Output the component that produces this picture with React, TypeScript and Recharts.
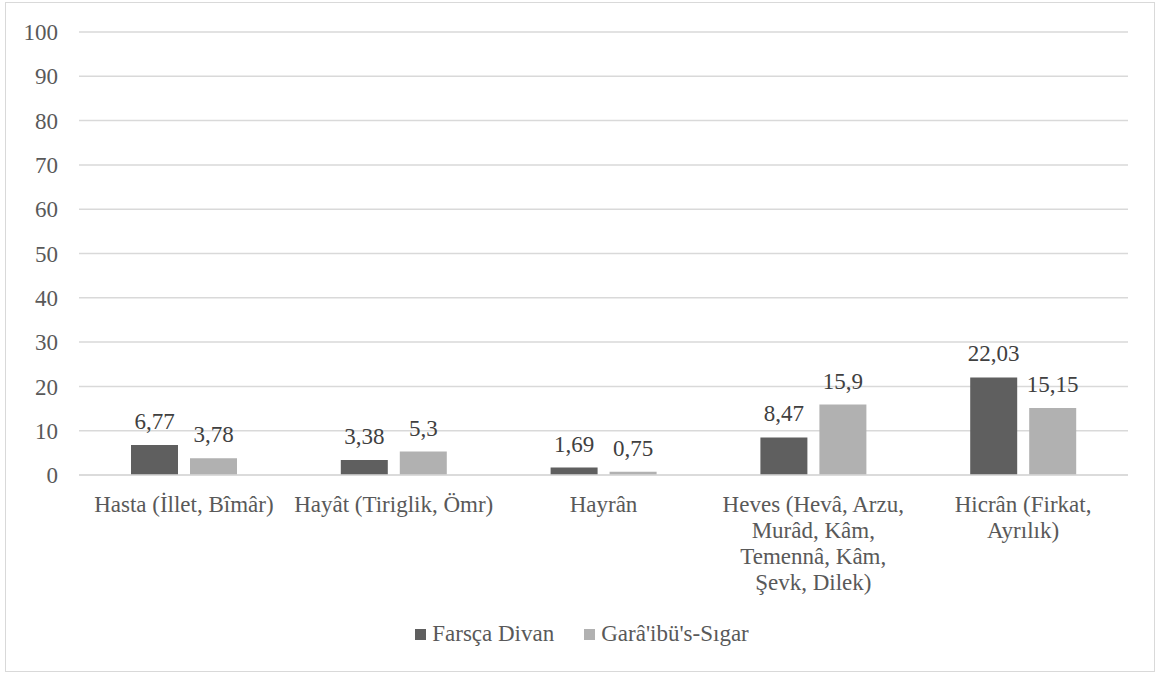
import React from 'react';
import { BarChart, Bar, XAxis, YAxis, CartesianGrid, LabelList } from 'recharts';

// categories (line breaks follow the wrapping seen in the reference)
const categories = [
  'Hasta (İllet, Bîmâr)',
  'Hayât (Tiriglik, Ömr)',
  'Hayrân',
  'Heves (Hevâ, Arzu,\nMurâd, Kâm,\nTemennâ, Kâm,\nŞevk, Dilek)',
  'Hicrân (Firkat,\nAyrılık)',
];
const farscaDivan = [6.77, 3.38, 1.69, 8.47, 22.03];
const garaibus = [3.78, 5.3, 0.75, 15.9, 15.15];
const yTicks = [0, 10, 20, 30, 40, 50, 60, 70, 80, 90, 100];

const seriesNames = ['Farsça Divan', "Garâ'ibü's-Sıgar"];
const colors = ['#5f5f5f', '#b1b1b1'];

const FONT = 'Liberation Serif';
const TEXT = '#595959';

const chartData = categories.map((name, i) => ({
  name,
  a: farscaDivan[i],
  b: garaibus[i],
}));

const fmt = (v: any) => String(v).replace('.', ',');

const CategoryTick = ({ x, y, payload }: any) => {
  const lines = String(payload.value).split('\n');
  return (
    <text x={x} y={y + 37} textAnchor="middle" fill={TEXT} fontSize={23} fontFamily={FONT}>
      {lines.map((l, i) => (
        <tspan key={i} x={x} dy={i === 0 ? 0 : 26}>{l}</tspan>
      ))}
    </text>
  );
};

export default function App() {
  return (
    <div>
      {/* legend as plain html, placed first */}
      <div style={{ fontFamily: FONT, fontSize: 23, color: TEXT, position: 'absolute', left: 0, top: 621, width: 1164, display: 'flex', justifyContent: 'center' }}>
        {seriesNames.map((n, i) => (
          <div key={n} style={{ display: 'flex', alignItems: 'center', marginRight: i === 0 ? 30 : 0 }}>
            <span style={{ width: 11, height: 11, background: colors[i], display: 'inline-block', marginRight: 6 }} />
            <span style={{ fontFamily: FONT }}>{n}</span>
          </div>
        ))}
      </div>
      <div style={{ position: 'absolute', left: 5, top: 2, width: 1150, height: 670, border: '1px solid #d9d9d9', boxSizing: 'border-box' }} />
      <div style={{ position: 'absolute', left: 0, top: 0 }}>
        <BarChart
          width={1164}
          height={620}
          data={chartData}
          margin={{ top: 32, right: 36, bottom: 0, left: 0 }}
          barSize={47}
          barGap={12}
        >
          <CartesianGrid vertical={false} stroke="#d9d9d9" strokeWidth={1.5} />
          <XAxis
            dataKey="name"
            height={145}
            interval={0}
            tickLine={false}
            tickSize={0}
            tickMargin={0}
            axisLine={{ stroke: '#d9d9d9', strokeWidth: 1.5 }}
            tick={<CategoryTick />}
          />
          <YAxis
            width={79}
            domain={[0, 100]}
            ticks={yTicks}
            axisLine={false}
            tickLine={false}
            tickSize={0}
            tickMargin={21}
            tick={{ fill: TEXT, fontSize: 23, fontFamily: FONT }}
          />
          <Bar dataKey="a" name={seriesNames[0]} fill={colors[0]} isAnimationActive={false}>
            <LabelList dataKey="a" position="top" offset={16} formatter={fmt} fill="#404040" fontSize={23} fontFamily={FONT} />
          </Bar>
          <Bar dataKey="b" name={seriesNames[1]} fill={colors[1]} isAnimationActive={false}>
            <LabelList dataKey="b" position="top" offset={16} formatter={fmt} fill="#404040" fontSize={23} fontFamily={FONT} />
          </Bar>
        </BarChart>
      </div>
    </div>
  );
}
